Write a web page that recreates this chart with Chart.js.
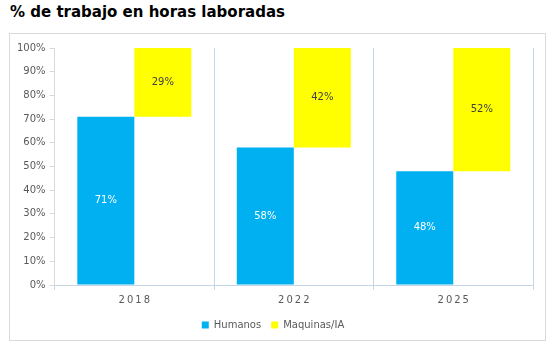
<!DOCTYPE html>
<html>
<head>
<meta charset="utf-8">
<script src="https://cdn.jsdelivr.net/npm/chart.js@4.4.1/dist/chart.umd.min.js"></script>
<style>
  body { margin: 0; background: #fff; width: 556px; height: 351px; position: relative; overflow: hidden; }
  #title { position: absolute; left: 10px; top: 3px; font: bold 15px "DejaVu Sans", sans-serif; color: #000; }
  #box { position: absolute; left: 9px; top: 33px; width: 535px; height: 306px; border: 1px solid #d9d9d9; }
</style>
</head>
<body>
<div id="title">% de trabajo en horas laboradas</div>
<div id="box"><canvas id="chart" width="535" height="306"></canvas></div>
<script>
const years = ['2018', '2022', '2025'];
const humanos = [71, 58, 48];
const maquinas = [29, 42, 52];
const yTicks = [0, 10, 20, 30, 40, 50, 60, 70, 80, 90, 100];

document.addEventListener('DOMContentLoaded', function() {
    // yellow bars float on top of the human share
    const maquinasRange = maquinas.map((m, i) => [humanos[i], humanos[i] + m]);

    const barLabels = {
        id: 'barLabels',
        afterDatasetsDraw(chart) {
            const ctx = chart.ctx;
            ctx.save();
            ctx.font = '10px "DejaVu Sans", sans-serif';
            ctx.textAlign = 'center';
            ctx.textBaseline = 'middle';
            chart.data.datasets.forEach((ds, di) => {
                const meta = chart.getDatasetMeta(di);
                meta.data.forEach((bar, i) => {
                    const p = bar.getProps(['x', 'y', 'base'], true);
                    const val = di === 0 ? humanos[i] : maquinas[i];
                    ctx.fillStyle = di === 0 ? '#ffffff' : '#404040';
                    ctx.fillText(val + '%', p.x, (p.y + p.base) / 2);
                });
            });
            ctx.restore();
        }
    };

    const ctx = document.getElementById('chart').getContext('2d');
    new Chart(ctx, {
        type: 'bar',
        data: {
            labels: years,
            datasets: [{
                label: 'Humanos',
                data: humanos,
                backgroundColor: '#00b0f0',
                barPercentage: 1,
                categoryPercentage: 0.715
            }, {
                label: 'Maquinas/IA',
                data: maquinasRange,
                backgroundColor: '#ffff00',
                barPercentage: 1,
                categoryPercentage: 0.715
            }]
        },
        options: {
            responsive: false,
            animation: false,
            layout: { padding: { left: 3, right: 12, top: 14, bottom: 0 } },
            scales: {
                x: {
                    grid: { color: '#c5d7e6', offset: true, tickLength: 5 },
                    border: { color: '#c5d7e6' },
                    ticks: {
                        color: '#595959',
                        font: { family: 'DejaVu Sans', size: 10 },
                        padding: 4,
                        callback: function(v) { return years[v].split('').join('\u2009'); }
                    }
                },
                y: {
                    min: 0,
                    max: 100,
                    afterBuildTicks: function(axis) { axis.ticks = yTicks.map(v => ({ value: v })); },
                    grid: { drawOnChartArea: false, color: '#d9d9d9', tickLength: 5 },
                    border: { color: '#d9d9d9' },
                    ticks: {
                        color: '#595959',
                        font: { family: 'DejaVu Sans', size: 10 },
                        padding: 4,
                        callback: function(v) { return v + '%'; }
                    }
                }
            },
            plugins: {
                legend: {
                    position: 'bottom',
                    labels: {
                        boxWidth: 7,
                        boxHeight: 7,
                        padding: 10,
                        color: '#595959',
                        font: { family: 'DejaVu Sans', size: 10 }
                    }
                },
                tooltip: { enabled: false }
            }
        },
        plugins: [barLabels]
    });
});
</script>
</body>
</html>
